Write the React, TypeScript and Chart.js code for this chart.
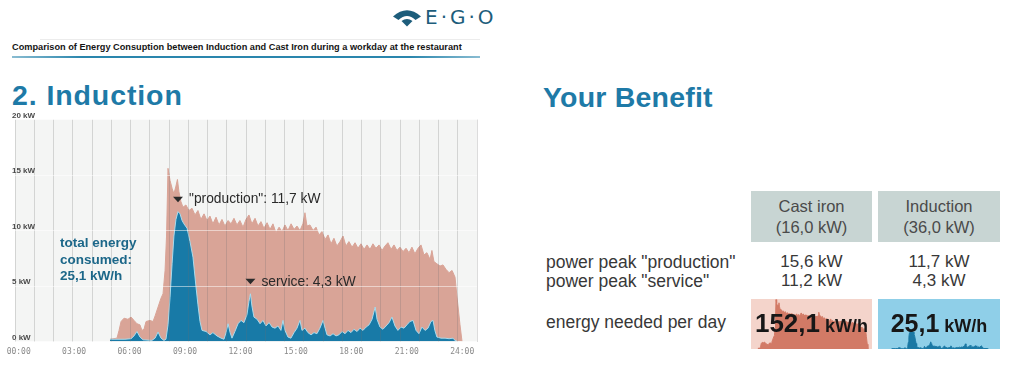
import React, { useEffect, useRef } from 'react';
import { Chart, registerables } from 'chart.js';

Chart.register(...registerables);

// ---------- data (hours of the day, kW) ----------
const castIronHours = [
  4.94, 5.32, 5.43, 5.54, 5.70, 5.91, 6.08, 6.24, 6.40, 6.56, 6.67, 6.78, 6.89, 7.10, 7.27, 7.38, 7.54, 7.70, 7.81, 7.92,
  8.00, 8.08, 8.19, 8.30, 8.40, 8.51, 8.59, 8.67, 8.78, 8.89, 9.05, 9.21, 9.38, 9.54, 9.70, 9.86, 10.03, 10.19, 10.35, 10.51,
  10.68, 10.84, 11.00, 11.16, 11.33, 11.49, 11.65, 11.81, 11.97, 12.14, 12.30, 12.46, 12.62, 12.79, 12.95, 13.11, 13.27, 13.44, 13.60, 13.76,
  13.92, 14.09, 14.25, 14.41, 14.57, 14.74, 14.90, 15.06, 15.22, 15.38, 15.49, 15.60, 15.76, 15.93, 16.09, 16.25, 16.41, 16.58, 16.74, 16.90,
  17.06, 17.22, 17.39, 17.55, 17.71, 17.87, 18.04, 18.20, 18.36, 18.52, 18.69, 18.85, 19.01, 19.17, 19.33, 19.50, 19.66, 19.82, 19.98, 20.15,
  20.31, 20.47, 20.63, 20.80, 20.96, 21.12, 21.28, 21.44, 21.61, 21.77, 21.93, 22.09, 22.26, 22.36, 22.47, 22.63, 22.80, 22.96, 23.12, 23.29,
  23.45, 23.61, 23.72, 23.88, 23.99,
];
const castIronKW = [
  0.2, 0.3, 1.0, 1.8, 2.1, 2.0, 2.2, 1.9, 1.6, 1.5, 1.0, 1.1, 1.8, 1.9, 1.8, 2.3, 3.1, 3.9, 4.3, 6.4,
  9.5, 15.6, 14.5, 13.8, 13.3, 14.0, 14.6, 13.5, 12.6, 12.1, 12.3, 11.8, 12.0, 11.4, 11.8, 11.0, 11.5, 10.9, 11.3, 10.6,
  11.2, 10.5, 11.0, 10.4, 10.9, 10.6, 11.1, 10.5, 10.9, 10.3, 11.0, 11.4, 10.6, 11.1, 10.4, 10.8, 10.2, 10.7, 10.1, 10.6,
  9.8, 10.3, 9.9, 10.5, 10.0, 10.6, 10.1, 10.4, 10.0, 10.6, 11.6, 10.4, 10.5, 10.0, 10.3, 9.6, 9.9, 9.2, 9.6, 8.8,
  9.3, 8.6, 9.0, 9.5, 8.6, 9.0, 8.5, 8.9, 8.4, 8.8, 8.3, 8.7, 8.3, 8.8, 8.4, 8.7, 8.2, 8.6, 8.9, 8.3,
  8.7, 8.2, 8.5, 8.1, 8.4, 8.0, 8.5, 7.9, 8.4, 8.7, 7.8, 8.0, 7.4, 8.2, 7.2, 7.0, 6.8, 6.9, 6.5, 6.2,
  6.4, 5.8, 4.0, 1.5, 0,
];
const inductionHours = [
  4.94, 5.75, 6.08, 6.24, 6.40, 6.56, 6.73, 7.21, 7.38, 7.54, 7.70, 7.86, 7.97, 8.08, 8.19, 8.30, 8.40, 8.51, 8.62, 8.73,
  8.84, 8.94, 9.11, 9.27, 9.43, 9.59, 9.70, 9.81, 9.92, 10.14, 10.35, 10.51, 10.73, 10.95, 11.11, 11.22, 11.33, 11.44, 11.54, 11.70,
  11.87, 12.03, 12.19, 12.35, 12.46, 12.54, 12.62, 12.73, 12.90, 13.06, 13.22, 13.38, 13.55, 13.71, 13.87, 14.03, 14.19, 14.30, 14.41, 14.57,
  14.73, 14.90, 15.06, 15.22, 15.33, 15.49, 15.65, 15.82, 15.98, 16.14, 16.30, 16.47, 16.58, 16.68, 16.85, 17.01, 17.17, 17.33, 17.50, 17.66,
  17.82, 17.98, 18.14, 18.31, 18.47, 18.63, 18.80, 18.96, 19.12, 19.29, 19.39, 19.55, 19.71, 19.88, 20.04, 20.20, 20.36, 20.52, 20.69, 20.85,
  21.01, 21.17, 21.34, 21.50, 21.66, 21.82, 21.99, 22.15, 22.31, 22.42, 22.52, 22.63, 22.85, 23.07, 23.29, 23.50, 23.61, 23.66,
];
const inductionKW = [
  0.2, 0.2, 0.25, 0.5, 0.9, 0.4, 0.15, 0.1, 0.3, 0.85, 0.3, 0.1, 0.2, 1.5, 4.0, 7.0, 9.5, 11.0, 11.7, 11.5,
  10.9, 10.6, 10.2, 9.0, 7.6, 5.0, 3.3, 1.8, 1.0, 0.9, 0.6, 0.8, 0.5, 0.3, 0.2, 0.8, 1.6, 0.8, 0.3, 0.9,
  1.6, 1.9, 1.7, 2.4, 3.6, 4.3, 3.2, 2.2, 2.0, 1.6, 1.9, 1.4, 1.7, 1.3, 1.2, 1.4, 1.0, 1.9, 1.0, 0.4,
  0.3, 0.8, 1.2, 1.9, 1.0, 1.2, 0.8, 0.6, 0.8, 0.7, 1.2, 1.9, 1.2, 0.6, 0.5, 0.7, 0.5, 0.6, 0.9, 0.7,
  1.0, 0.8, 1.1, 0.9, 1.2, 1.0, 1.3, 1.5, 2.0, 3.1, 2.0, 1.3, 1.1, 1.4, 1.7, 2.2, 1.4, 1.0, 1.3, 1.2,
  1.5, 1.8, 1.9, 1.0, 0.7, 1.3, 1.0, 1.2, 1.8, 1.9, 1.0, 0.4, 0.3, 0.3, 0.25, 0.3, 0.1, 0,
];

const hourTickLabels = ['00:00', '03:00', '06:00', '09:00', '12:00', '15:00', '18:00', '21:00', '24:00'];
const powerTickLabels = ['0 kW', '5 kW', '10 kW', '15 kW', '20 kW'];

const peakNotes = [
  { text: '"production": 11,7 kW', hour: 8.62, kW: 11.7 },
  { text: 'service: 4,3 kW', hour: 12.54, kW: 4.3 },
];

const tableColumns = ['Cast iron', 'Induction'];
const tableRatings = ['(16,0 kW)', '(36,0 kW)'];
const tableRows = ['power peak "production"', 'power peak "service"', 'energy needed per day'];
const productionPeaks = ['15,6 kW', '11,7 kW'];
const servicePeaks = ['11,2 kW', '4,3 kW'];
const dailyEnergy = ['152,1', '25,1'];

// ---------- styles ----------
const SALMON = '#d9a497';
const BLUE = '#187aa7';
const TEAL_HEAD = '#1e7aa7';
const SANS = '"Liberation Sans", Arial, Helvetica, sans-serif';

const toPoints = (xs: number[], ys: number[]) => xs.map((x, i) => ({ x, y: ys[i] }));

const plotBg = {
  id: 'plotBg',
  beforeDraw(chart: any) {
    const { ctx, chartArea } = chart;
    ctx.save();
    ctx.fillStyle = '#f4f5f4';
    ctx.fillRect(chartArea.left, chartArea.top, chartArea.right - chartArea.left, chartArea.bottom - chartArea.top);
    ctx.restore();
  },
};

const notesPlugin = {
  id: 'peakNotes',
  afterDraw(chart: any) {
    const { ctx } = chart;
    const xs = chart.scales.x;
    const ys = chart.scales.y;
    ctx.save();
    peakNotes.forEach((n) => {
      const px = xs.getPixelForValue(n.hour);
      const py = ys.getPixelForValue(n.kW) - 12.5;
      ctx.fillStyle = '#2b2b2b';
      ctx.beginPath();
      ctx.moveTo(px - 5, py - 2.5);
      ctx.lineTo(px + 5, py - 2.5);
      ctx.lineTo(px, py + 3);
      ctx.closePath();
      ctx.fill();
      ctx.font = '13.8px ' + SANS;
      ctx.textAlign = 'left';
      ctx.textBaseline = 'middle';
      ctx.fillStyle = '#2a2a2a';
      ctx.fillText(n.text, px + 11, py + 0.5);
    });
    ctx.restore();
  },
};

function miniConfig(xs: number[], ys: number[], color: string, xmin: number, xmax: number, ymax: number): any {
  return {
    type: 'line',
    data: {
      datasets: [
        {
          data: toPoints(xs, ys),
          backgroundColor: color,
          borderColor: color,
          borderWidth: 1,
          fill: 'origin',
          pointRadius: 0,
          tension: 0,
        },
      ],
    },
    options: {
      responsive: false,
      animation: false,
      events: [],
      layout: { padding: 0 },
      plugins: { legend: { display: false }, tooltip: { enabled: false } },
      scales: {
        x: { type: 'linear', display: false, min: xmin, max: xmax },
        y: { display: false, min: 0, max: ymax },
      },
    },
  };
}

export default function App() {
  const mainRef = useRef<HTMLCanvasElement>(null);
  const castRef = useRef<HTMLCanvasElement>(null);
  const indRef = useRef<HTMLCanvasElement>(null);

  useEffect(() => {
    const main = new Chart(mainRef.current as HTMLCanvasElement, {
      type: 'line',
      data: {
        datasets: [
          {
            label: 'Induction',
            data: toPoints(inductionHours, inductionKW),
            xAxisID: 'x',
            yAxisID: 'y',
            backgroundColor: BLUE,
            borderColor: 'rgba(170,222,240,0.95)',
            borderWidth: 1,
            fill: 'origin',
            pointRadius: 0,
            tension: 0,
          },
          {
            label: 'Cast iron',
            data: toPoints(castIronHours, castIronKW),
            xAxisID: 'x',
            yAxisID: 'y',
            backgroundColor: SALMON,
            borderColor: SALMON,
            borderWidth: 1,
            fill: 'origin',
            pointRadius: 0,
            tension: 0,
          },
        ],
      },
      options: {
        responsive: false,
        animation: false,
        events: [],
        layout: { padding: { left: 15, right: 13, top: 19.5, bottom: 4.5 } },
        plugins: { legend: { display: false }, tooltip: { enabled: false } },
        scales: {
          x: {
            type: 'linear',
            position: 'bottom',
            min: -0.2,
            max: 24.8,
            grid: { display: false, drawTicks: false },
            border: { display: false },
            ticks: {
              stepSize: 3,
              includeBounds: false,
              autoSkip: false,
              maxRotation: 0,
              padding: 6,
              color: '#8a8a8a',
              font: { family: '"DejaVu Sans Mono", monospace', size: 8 },
              callback: (_v: any, i: number) => hourTickLabels[i],
            },
            afterFit: (s: any) => {
              s.height = 24;
            },
          },
          xg: {
            type: 'linear',
            position: 'bottom',
            min: 0,
            max: 24,
            grid: { color: 'rgba(110,110,110,0.24)', z: 1, drawTicks: false },
            border: { display: false },
            ticks: { display: false, stepSize: 1 },
            afterFit: (s: any) => {
              s.height = 0;
            },
          },
          y: {
            position: 'left',
            min: 0,
            max: 20,
            grid: { color: 'rgba(255,255,255,0.5)', z: 1, drawTicks: false },
            border: { display: false },
            ticks: {
              stepSize: 5,
              mirror: true,
              padding: -3,
              labelOffset: -4,
              color: '#4a4a4a',
              font: { family: SANS, size: 8, weight: 'bold' },
              callback: (_v: any, i: number) => powerTickLabels[i],
            },
            afterFit: (s: any) => {
              s.width = 0;
            },
          },
        },
      },
      plugins: [plotBg, notesPlugin],
    } as any);

    const cast = new Chart(
      castRef.current as HTMLCanvasElement,
      miniConfig(castIronHours, castIronKW, '#d27a66', 3.75, 24.7, 15.8)
    );
    const ind = new Chart(
      indRef.current as HTMLCanvasElement,
      miniConfig(inductionHours, inductionKW, '#1a78a4', 2.3, 26, 30)
    );

    return () => {
      main.destroy();
      cast.destroy();
      ind.destroy();
    };
  }, []);

  const abs = (s: React.CSSProperties): React.CSSProperties => ({ position: 'absolute', whiteSpace: 'nowrap', ...s });
  const cellLeft = [751, 878];
  const cellWidth = [121, 122];

  return (
    <div
      style={{
        position: 'absolute',
        left: 0,
        top: 0,
        width: 1024,
        height: 379,
        background: '#ffffff',
        fontFamily: SANS,
        overflow: 'hidden',
      }}
    >
      {/* logo */}
      <svg style={abs({ left: 393, top: 7 })} width={28} height={20} viewBox="0 0 28 20">
        <path d="M0,9.5 Q14,-3 28,9.5 L22.5,13 Q14,5 5.5,13 Z" fill="#1d5d7b" />
        <path d="M8.5,14 Q14,10 19.5,14 L14,19.5 Z" fill="#1d5d7b" />
      </svg>
      <div
        style={abs({
          left: 425,
          top: 5,
          fontSize: 20,
          lineHeight: '24px',
          color: '#1d5d7b',
          fontFamily: '"DejaVu Sans", sans-serif',
          letterSpacing: 3,
        })}
      >
        E·G·O
      </div>

      {/* header line */}
      <div style={abs({ left: 40, top: 39, width: 440, height: 1, background: '#ececec' })} />
      <div
        style={abs({
          left: 12,
          top: 41,
          fontSize: 9.2,
          lineHeight: '12px',
          fontWeight: 'bold',
          color: '#151515',
        })}
      >
        Comparison of Energy Consuption between Induction and Cast Iron during a workday at the restaurant
      </div>
      <div
        style={abs({
          left: 12,
          top: 56,
          width: 468,
          height: 2,
          background: 'linear-gradient(to right, rgba(42,134,173,0.55), #2a86ad 15%, #2a86ad 85%, rgba(42,134,173,0.55))',
        })}
      />

      {/* headings */}
      <div
        style={abs({
          left: 12,
          top: 79,
          fontSize: 28.5,
          lineHeight: '32px',
          fontWeight: 'bold',
          color: TEAL_HEAD,
          letterSpacing: 0.9,
        })}
      >
        2. Induction
      </div>
      <div
        style={abs({
          left: 543,
          top: 81,
          fontSize: 28.5,
          lineHeight: '32px',
          fontWeight: 'bold',
          color: TEAL_HEAD,
          letterSpacing: 0.2,
        })}
      >
        Your Benefit
      </div>

      {/* main chart */}
      <canvas ref={mainRef} width={490} height={270} style={abs({ left: 0, top: 100, width: 490, height: 270 })} />

      <div
        style={abs({
          left: 60,
          top: 235,
          fontSize: 13.5,
          lineHeight: '16.5px',
          fontWeight: 'bold',
          color: '#1c6789',
          whiteSpace: 'pre',
        })}
      >
        {'total energy\nconsumed:\n25,1 kW/h'}
      </div>

      {/* table header cells */}
      {tableColumns.map((c, i) => (
        <div
          key={c}
          style={abs({
            left: cellLeft[i],
            top: 191,
            width: cellWidth[i],
            height: 51,
            background: '#c8d5d3',
          })}
        >
          <div
            style={{
              position: 'absolute',
              left: 0,
              right: 0,
              top: 4.5,
              textAlign: 'center',
              fontSize: 16.5,
              lineHeight: '21px',
              color: '#4a4a4a',
            }}
          >
            {c}
            <br />
            {tableRatings[i]}
          </div>
        </div>
      ))}

      {/* row labels */}
      {tableRows.map((r, i) => (
        <div
          key={r}
          style={abs({
            left: 546,
            top: [251.5, 270.8, 311.8][i],
            fontSize: 17.5,
            lineHeight: '20px',
            color: '#383838',
          })}
        >
          {r}
        </div>
      ))}

      {/* values */}
      {[productionPeaks, servicePeaks].map((vals, row) =>
        vals.map((v, i) => (
          <div
            key={row + '-' + i}
            style={abs({
              left: cellLeft[i],
              width: cellWidth[i],
              top: [251.5, 270.8][row],
              textAlign: 'center',
              fontSize: 17,
              lineHeight: '20px',
              color: '#383838',
            })}
          >
            {v}
          </div>
        ))
      )}

      {/* energy cells with mini charts */}
      {[0, 1].map((i) => (
        <div
          key={'e' + i}
          style={abs({
            left: cellLeft[i],
            top: 299,
            width: cellWidth[i],
            height: 50,
            background: i === 0 ? '#f4d4cb' : '#8fcfe8',
            overflow: 'hidden',
          })}
        >
          <canvas
            ref={i === 0 ? castRef : indRef}
            width={cellWidth[i]}
            height={50}
            style={{ position: 'absolute', left: 0, top: 0, width: cellWidth[i], height: 50 }}
          />
          <div
            style={{
              position: 'absolute',
              left: 0,
              right: 0,
              top: 8.7,
              textAlign: 'center',
              lineHeight: '30px',
              fontWeight: 'bold',
              color: '#171717',
              whiteSpace: 'nowrap',
            }}
          >
            <span style={{ fontSize: i === 0 ? 26 : 25 }}>{dailyEnergy[i]}</span>
            <span style={{ fontSize: 18 }}> kW/h</span>
          </div>
        </div>
      ))}
    </div>
  );
}
